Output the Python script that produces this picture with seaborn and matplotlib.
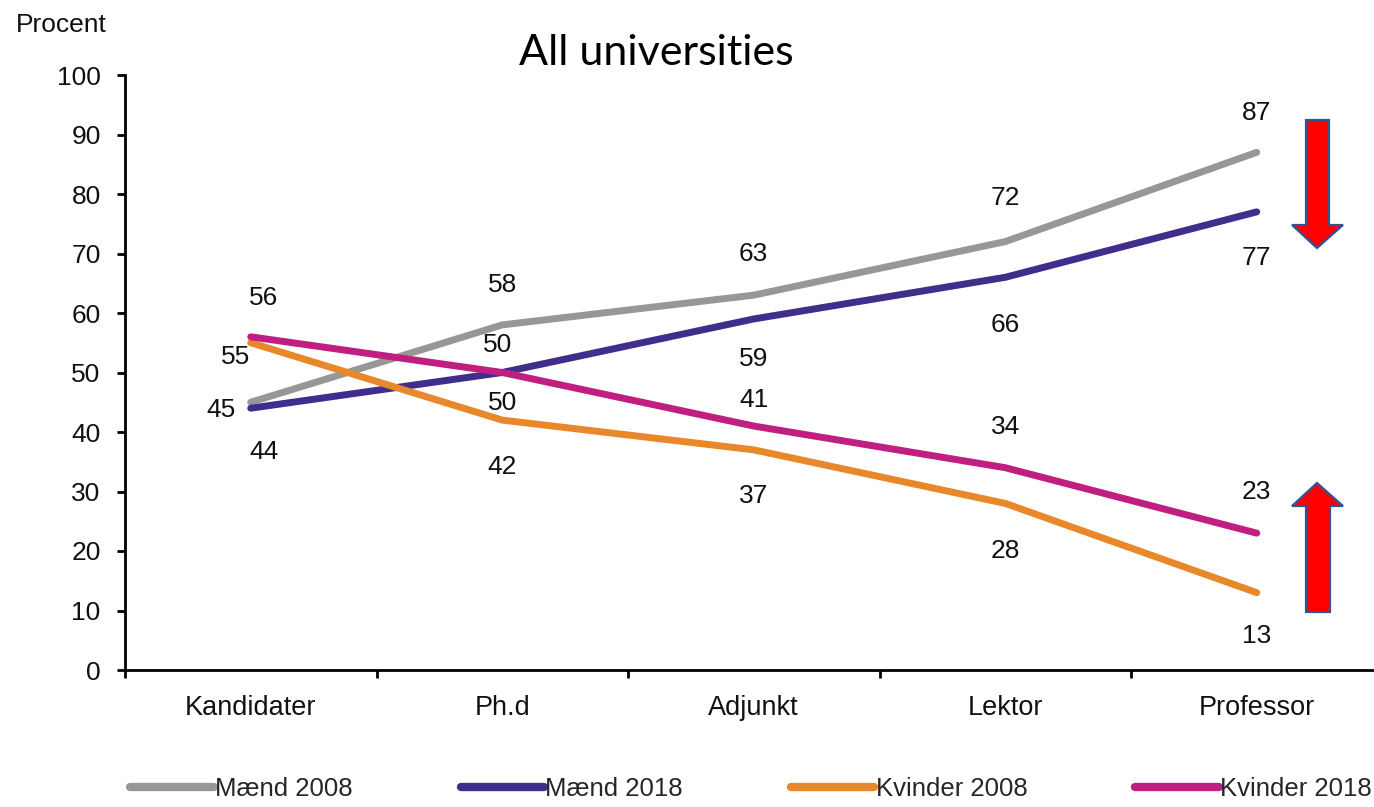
import numpy as np
import pandas as pd
import matplotlib
matplotlib.use("Agg")
import matplotlib.pyplot as plt
import seaborn as sns
from matplotlib.lines import Line2D
from matplotlib.patches import Polygon
from matplotlib.transforms import Affine2D

# ---- data ----
categories = ["Kandidater", "Ph.d", "Adjunkt", "Lektor", "Professor"]
maend_2008 = [45, 58, 63, 72, 87]
maend_2018 = [44, 50, 59, 66, 77]
kvinder_2008 = [55, 42, 37, 28, 13]
kvinder_2018 = [56, 50, 41, 34, 23]
series_names = ["Mænd 2008", "Mænd 2018", "Kvinder 2008", "Kvinder 2018"]
y_ticks = list(range(0, 101, 10))

# ---- styles ----
colors = ["#979797", "#402d8c", "#e8882a", "#c01e80"]
# label offsets in pixels (dx, dy) per series per category
label_offsets = [
    [(-30, -8), (0, 40), (0, 41), (0, 44), (0, 39)],
    [(13, -44), (-5, 28), (0, -40), (0, -48), (0, -46)],
    [(-15, -14), (0, -47), (0, -46), (0, -48), (0, -43)],
    [(13, 39), (0, -30), (0, 26), (0, 41), (0, 41)],
]

values = [maend_2008, maend_2018, kvinder_2008, kvinder_2018]
df = pd.DataFrame({
    "Stilling": categories * len(series_names),
    "Procent": [v for s in values for v in s],
    "Serie": [n for n in series_names for _ in categories],
})

sns.set_theme(style="ticks")
plt.rcParams["font.family"] = ["Liberation Sans", "DejaVu Sans"]

W, H = 1374, 807
fig = plt.figure(figsize=(W / 100, H / 100), dpi=100)
ax = fig.add_axes([125 / W, 1 - 670 / H, (W - 125) / W, 595 / H])

sns.lineplot(data=df, x="Stilling", y="Procent", hue="Serie",
             hue_order=series_names, palette=colors, linewidth=5.0,
             sort=False, ax=ax, legend=False)
for line in ax.get_lines():
    line.set_solid_capstyle("round")

ax.set_xlim(-0.5, (W - 125) / 251.5 - 0.5)
ax.set_ylim(0, 100)
ax.set_yticks(y_ticks)
ax.set_xticks(range(len(categories)))
ax.set_xticklabels(categories)
ax.set_xticks([i - 0.5 for i in range(len(categories))], minor=True)
ax.set_xlabel("")
ax.set_ylabel("")

for s in ["top", "right"]:
    ax.spines[s].set_visible(False)
for s in ["left", "bottom"]:
    ax.spines[s].set_color("black")
    ax.spines[s].set_linewidth(2.0)

ax.tick_params(axis="y", which="major", direction="out", length=5.5, width=2,
               color="black", labelsize=19, pad=12, labelcolor="#111111")
ax.tick_params(axis="x", which="major", length=0, labelsize=19.5, pad=18,
               labelcolor="#111111")
ax.tick_params(axis="x", which="minor", direction="out", length=5.5, width=2,
               color="black")

for si, vals in enumerate(values):
    for ci, v in enumerate(vals):
        dx, dy = label_offsets[si][ci]
        ax.annotate(str(v), (ci, v), xytext=(dx, dy), textcoords="offset pixels",
                    ha="center", va="center", fontsize=19, color="#111111")

# title and unit label
fig.text(656 / W, 1 - 53 / H, "All universities", ha="center", va="center",
         fontsize=31, family=["Lato", "DejaVu Sans"], color="black")
fig.text(16 / W, 1 - 25 / H, "Procent", ha="left", va="center",
         fontsize=19, color="#111111")

# legend
handles = [Line2D([0], [0], color=c, lw=6, solid_capstyle="round") for c in colors]
fig.legend(handles, series_names, loc="center", bbox_to_anchor=(751 / W, 1 - 789 / H),
           bbox_transform=fig.transFigure, ncol=4, frameon=False, fontsize=18.5,
           handlelength=3.25, handletextpad=0.05, columnspacing=4.2, borderpad=0,
           borderaxespad=0)

# red arrows (pixel coordinates of the image, y downward)
pix = Affine2D().scale(1 / W, -1 / H).translate(0, 1) + fig.transFigure
down = [(1306, 120), (1329, 120), (1329, 225), (1343, 225), (1317, 248),
        (1292, 225), (1306, 225)]
up = [(1317, 483), (1343, 506), (1330, 506), (1330, 612), (1306, 612),
      (1306, 506), (1292, 506)]
for pts in (down, up):
    fig.patches.append(Polygon(pts, closed=True, facecolor="#ff0000",
                               edgecolor="#2f5597", linewidth=1.6,
                               transform=pix, figure=fig))

fig.savefig("out.png", dpi=100)
